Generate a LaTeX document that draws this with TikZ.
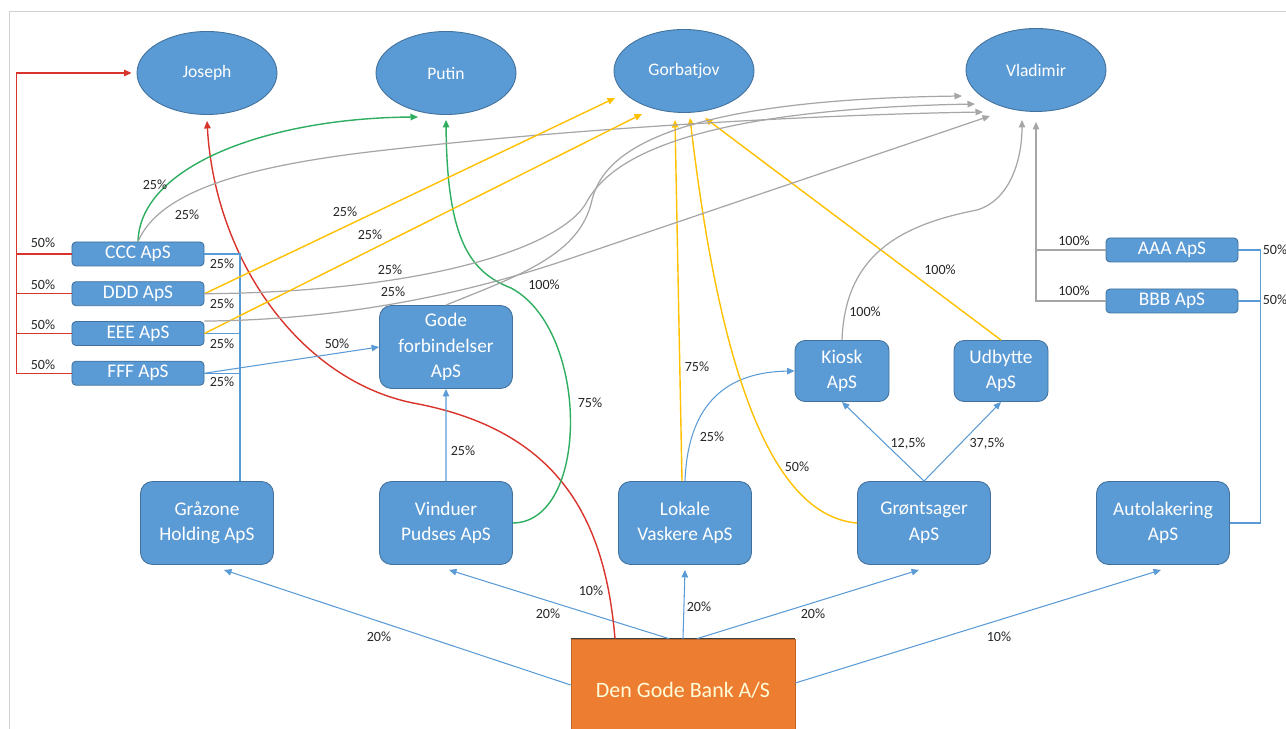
\documentclass[tikz,border=0pt]{standalone}
\usepackage{fontspec}
\setmainfont{Carlito}
\usetikzlibrary{shapes.geometric, arrows.meta, positioning}

\definecolor{ownblue}{HTML}{5B9BD5}
\definecolor{ownedge}{HTML}{41719C}
\definecolor{ownorange}{HTML}{ED7D31}
\definecolor{ownred}{HTML}{D9342B}
\definecolor{owngreen}{HTML}{2EAE60}
\definecolor{ownyellow}{HTML}{FFC000}
\definecolor{owngrey}{HTML}{A6A6A6}
\definecolor{pcttext}{HTML}{262626}

\tikzset{
  person/.style={ellipse, fill=ownblue, draw=ownedge, line width=0.5pt, text=white,
    minimum width=28mm, minimum height=16.6mm, inner sep=0pt, font=\fontsize{10}{12}\selectfont},
  company/.style={rectangle, rounded corners=2.4mm, fill=ownblue, draw=ownedge, line width=0.5pt,
    text=white, align=center, minimum width=26.6mm, minimum height=16.6mm, inner sep=1pt,
    font=\fontsize{11}{14.5}\selectfont},
  shell/.style={company, rounded corners=0.8mm, minimum width=26.4mm, minimum height=4.8mm},
  midco/.style={company, rounded corners=2mm, minimum width=18.8mm, minimum height=12.2mm},
  bank/.style={rectangle, fill=ownorange, draw=ownorange!80!black, line width=0.4pt,
    minimum width=44.8mm, minimum height=20.4mm, text=yellow!15,
    font=\fontsize{12.5}{15}\selectfont},
  pct/.style={font=\fontsize{8}{9}\selectfont, text=pcttext, inner sep=0pt},
  arr/.style={-{Triangle[length=1.5mm,width=1.3mm]}},
  bluel/.style={draw=ownblue, line width=0.6pt},
  redl/.style={draw=ownred, line width=0.8pt},
  greenl/.style={draw=owngreen, line width=0.8pt},
  yell/.style={draw=ownyellow, line width=0.8pt},
  greyl/.style={draw=owngrey, line width=0.7pt},
}

\begin{document}
\begin{tikzpicture}[x=0.2mm, y=-0.2mm, on grid]
  \useasboundingbox (0,0) rectangle (1286,729);
  \draw[black!18, line width=0.5pt] (9,729) -- (9,11) -- (1286,11);

  % owners
  \node[person] (joseph) at (207,73)  {Joseph};
  \node[person] (putin)  at (446,73)  {Putin};
  \node[person] (gorb)   at (684,71)  {Gorbatjov};
  \node[person] (vlad)   at (1036,70) {Vladimir};

  % shell companies
  \node[shell] (ccc) at (138,254) {CCC ApS};
  \node[shell] (ddd) [below=7.95mm of ccc] {DDD ApS};
  \node[shell] (eee) [below=7.95mm of ddd] {EEE ApS};
  \node[shell] (fff) [below=7.95mm of eee] {FFF ApS};
  \node[shell] (aaa) at (1172,250) {AAA ApS};
  \node[shell] (bbb) [below=10.2mm of aaa] {BBB ApS};

  \node[company] (gode) at (446,347) {Gode\\forbindelser\\ApS};
  \node[midco] (kiosk) at (842,371) {Kiosk\\ApS};
  \node[midco] (udb) [right=31.8mm of kiosk] {Udbytte\\ApS};

  % companies owned by the bank
  \node[company] (graa)  at (207,523) {Gråzone\\Holding ApS};
  \node[company] (vind)  [right=47.8mm of graa] {Vinduer\\Pudses ApS};
  \node[company] (lok)   [right=47.8mm of vind] {Lokale\\Vaskere ApS};
  \node[company] (grn)   [right=47.8mm of lok]  {Grøntsager\\ApS};
  \node[company] (autol) [right=47.8mm of grn]  {Autolakering\\ApS};
  \node[bank] (bank) at (683,690) {Den Gode Bank A/S};
  \draw[black!75, line width=0.8pt] (bank.north west) -- (bank.north east);

  % arrow ends at the owners
  \coordinate (pu1) at (418,117);
  \coordinate (go1) at (615,98);
  \coordinate (go2) at (642,114);
  \coordinate (go3) at (675,120);
  \coordinate (go4) at (690,118);
  \coordinate (go5) at (705,118);
  \coordinate (vl1) at (962,96);
  \coordinate (vl2) at (975,104);
  \coordinate (vl3) at (983,112);
  \coordinate (vl4) at (990,116);
  \coordinate (vl5) at (1022,120);
  \coordinate (vl6) at (1036,122);

  % Den Gode Bank A/S
  \draw[bluel, arr] ([shift={(0,-5)}]bank.west) -- ([shift={(17,5)}]graa.south);
  \draw[bluel, arr] ([shift={(-14,0)}]bank.north) -- ([shift={(3,5)}]vind.south);
  \draw[bluel, arr] (bank.north) -- ([shift={(0,5)}]lok.south);
  \draw[bluel, arr] ([shift={(14,0)}]bank.north) -- ([shift={(-5,5)}]grn.south);
  \draw[bluel, arr] ([shift={(0,-7)}]bank.east) -- ([shift={(-2,5)}]autol.south);
  \draw[redl, arr] ([shift={(-68,0)}]bank.north) .. controls (605,520) and (560,430) .. (413,403)
    .. controls (300,380) and (215,260) .. ([shift={(0,6)}]joseph.south);

  % Graazone Holding
  \coordinate (gbar) at ([shift={(33,0)}]graa.north);
  \draw[bluel] (gbar) |- (ccc.east);
  \foreach \s in {ddd,eee,fff} \draw[bluel] (\s.east) -- (\s.east -| gbar);

  % Vinduer, Lokale, Groentsager
  \draw[bluel, arr] (vind.north) -- (gode.south);
  \draw[greenl, arr] (vind.east) .. controls (590,522) and (590,330) .. (511,288)
    .. controls (470,272) and (447,240) .. ([shift={(0,5)}]putin.south);
  \draw[yell, arr] ([shift={(-3,0)}]lok.north) -- (go3);
  \draw[bluel, arr] (lok.north) .. controls (688,400) and (730,372) .. (kiosk.west);
  \draw[bluel, arr] (grn.north) -- (kiosk.south);
  \draw[bluel, arr] (grn.north) -- (udb.south);
  \draw[yell, arr] (grn.west) .. controls (760,515) and (715,330) .. (go4);
  \draw[yell, arr] (udb.north) -- (go5);
  \draw[greyl, arr] (kiosk.north) .. controls (845,255) and (900,225) .. (977,210)
    .. controls (1010,200) and (1022,160) .. (vl5);

  % Autolakering
  \draw[bluel] (autol.east) -- ++(31,0) coordinate (abar) |- (aaa.east);
  \draw[bluel] (bbb.east) -- (bbb.east -| abar);
  \draw[greyl, arr] (bbb.west) -| (vl6);
  \draw[greyl] (aaa.west) -- (aaa.west -| vl6);

  % shell companies to the owners
  \draw[redl, arr] (fff.west) -- ++(-55,0) |- ([shift={(-5,0)}]joseph.west);
  \foreach \s in {ccc,ddd,eee} \draw[redl] (\s.west) -- ++(-55,0);
  \draw[greenl, arr] (ccc.north) .. controls (140,165) and (270,118) .. (pu1);
  \draw[greyl, arr] (ccc.north) .. controls (160,190) and (250,165) .. (386,150)
    .. controls (560,130) and (800,115) .. (vl3);
  \draw[yell, arr] (ddd.east) -- (go1);
  \draw[greyl, arr] (ddd.east) .. controls (420,292) and (555,250) .. (585,205)
    .. controls (603,170) and (660,110) .. (vl2);
  \draw[yell, arr] (eee.east) -- (go2);
  \draw[greyl, arr] (eee.north east) .. controls (340,320) and (460,295) .. (560,262) -- (vl4);
  \draw[bluel, arr] (fff.east) -- (gode.west);
  \draw[greyl, arr] (gode.north) .. controls (520,275) and (580,255) .. (592,200)
    .. controls (602,160) and (650,100) .. (vl1);

  % ownership shares
  \foreach \x/\y/\p [count=\i] in {43/243/50, 43/285/50, 43/325/50, 43/365/50,
      222/264/25, 222/304/25, 222/344/25, 222/382/25, 155/185/25, 187/215/25,
      345/212/25, 370/235/25, 390/270/25, 393/292/25, 337/344/50,
      463/451/25, 590/403/75, 544/285/100, 712/437/25, 697/367/75, 797/467/50,
      908/444/{12,5}, 987/444/{37,5}, 865/312/100, 940/270/100,
      1074/241/100, 1074/291/100, 1275/250/50, 1275/300/50,
      379/637/20, 548/614/20, 591/591/10, 699/607/20, 813/614/20, 999/637/10}
    \node[pct] (pct\i) at (\x,\y) {\p\%};
\end{tikzpicture}
\end{document}
